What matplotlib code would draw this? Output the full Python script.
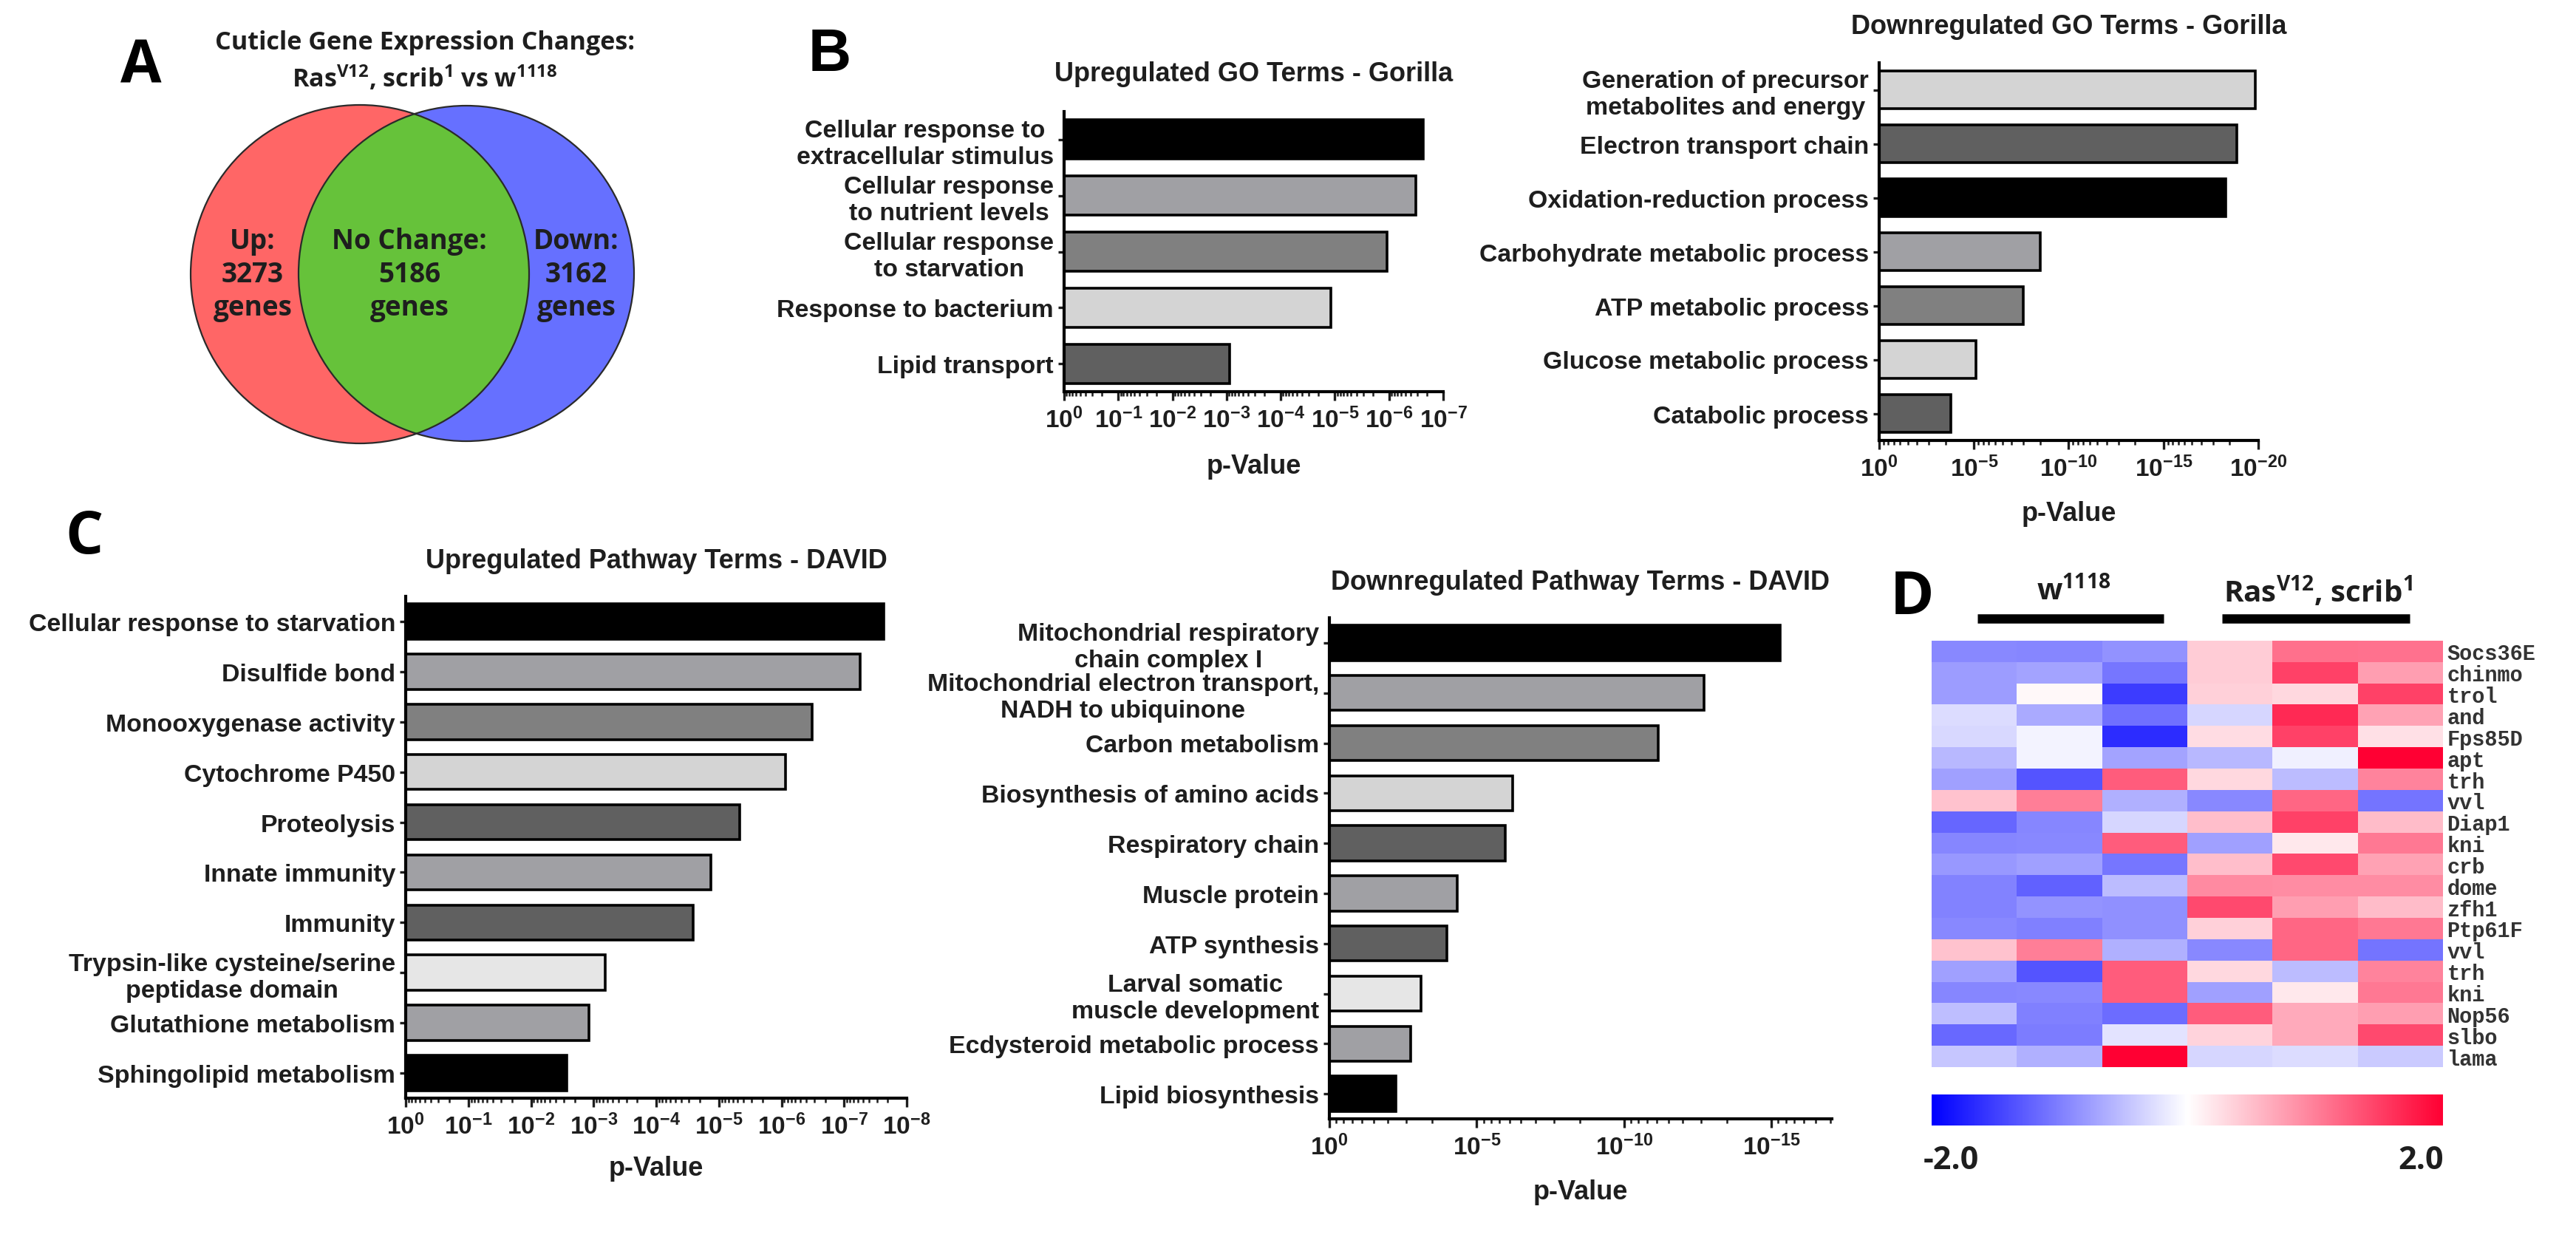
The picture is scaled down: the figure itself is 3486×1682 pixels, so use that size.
import numpy as np
import matplotlib
matplotlib.use("Agg")
import matplotlib.pyplot as plt
from matplotlib.patches import Circle
from matplotlib.colors import LinearSegmentedColormap
from matplotlib.ticker import FixedLocator, FuncFormatter, NullFormatter

# ---------------- data ----------------
venn_up = 3273
venn_nochange = 5186
venn_down = 3162

bup_labels = ["Cellular response to\nextracellular stimulus", "Cellular response\nto nutrient levels",
              "Cellular response\nto starvation", "Response to bacterium", "Lipid transport"]
bup_p = [2.3e-7, 3.2e-7, 1.1e-6, 1.2e-5, 8.7e-4]

bdown_labels = ["Generation of precursor\nmetabolites and energy", "Electron transport chain",
                "Oxidation-reduction process", "Carbohydrate metabolic process",
                "ATP metabolic process", "Glucose metabolic process", "Catabolic process"]
bdown_p = [1.4e-20, 1.3e-19, 5e-19, 3.3e-9, 2.4e-8, 7.6e-6, 1.6e-4]

cup_labels = ["Cellular response to starvation", "Disulfide bond", "Monooxygenase activity",
              "Cytochrome P450", "Proteolysis", "Innate immunity", "Immunity",
              "Trypsin-like cysteine/serine\npeptidase domain", "Glutathione metabolism",
              "Sphingolipid metabolism"]
cup_p = [2.3e-8, 5.5e-8, 3.2e-7, 8.7e-7, 4.7e-6, 1.35e-5, 2.6e-5, 6.5e-4, 1.2e-3, 2.7e-3]

cdown_labels = ["Mitochondrial respiratory\nchain complex I", "Mitochondrial electron transport,\nNADH to ubiquinone",
                "Carbon metabolism", "Biosynthesis of amino acids", "Respiratory chain",
                "Muscle protein", "ATP synthesis", "Larval somatic\nmuscle development",
                "Ecdysteroid metabolic process", "Lipid biosynthesis"]
cdown_p = [5e-16, 1.9e-13, 7e-12, 6e-7, 1.1e-6, 4.7e-5, 1.05e-4, 8e-4, 1.7e-3, 5.6e-3]

genes = ["Socs36E", "chinmo", "trol", "and", "Fps85D", "apt", "trh", "vvl", "Diap1", "kni",
         "crb", "dome", "zfh1", "Ptp61F", "vvl", "trh", "kni", "Nop56", "slbo", "lama"]
heat = np.array([
    [-0.93, -0.95, -0.85, 0.40, 1.12, 1.10],
    [-0.78, -0.71, -1.07, 0.40, 1.47, 0.75],
    [-0.78, 0.05, -1.53, 0.37, 0.30, 1.47],
    [-0.27, -0.67, -1.12, -0.32, 1.66, 0.72],
    [-0.30, -0.08, -1.65, 0.27, 1.47, 0.24],
    [-0.56, -0.08, -0.71, -0.56, -0.12, 2.00],
    [-0.75, -1.33, 1.28, 0.30, -0.52, 0.96],
    [0.48, 1.00, -0.62, -0.93, 1.20, -1.09],
    [-1.20, -0.95, -0.32, 0.50, 1.47, 0.53],
    [-0.95, -0.93, 1.28, -0.75, 0.18, 1.06],
    [-0.80, -0.75, -1.07, 0.50, 1.42, 0.72],
    [-0.98, -1.23, -0.52, 0.92, 0.90, 0.90],
    [-0.98, -0.84, -0.87, 1.42, 0.75, 0.53],
    [-0.93, -1.00, -0.87, 0.37, 1.20, 1.06],
    [0.48, 1.00, -0.62, -0.93, 1.20, -1.09],
    [-0.75, -1.33, 1.28, 0.30, -0.52, 0.96],
    [-0.95, -0.93, 1.28, -0.75, 0.18, 1.06],
    [-0.51, -1.00, -1.15, 1.28, 0.67, 0.75],
    [-1.18, -1.03, -0.21, 0.34, 0.67, 1.42],
    [-0.45, -0.62, 2.00, -0.32, -0.27, -0.42],
])

# ---------------- styles ----------------
BLK, G1, G2, G3, G4, G5 = "#000000", "#A0A0A4", "#808080", "#D4D4D4", "#606060", "#E6E6E6"
bup_colors = [BLK, G1, G2, G3, G4]
bdown_colors = [G3, G4, BLK, G1, G2, G3, G4]
cup_colors = [BLK, G1, G2, G3, G4, G1, G4, G5, G1, BLK]
cdown_colors = [BLK, G1, G2, G3, G4, G1, G4, G5, G1, BLK]

SANS = "Liberation Sans"
MY = "Open Sans"
MONO = "Liberation Mono"
TXT = "#1e1e1e"

plt.rcParams["font.family"] = [SANS, "DejaVu Sans"]
plt.rcParams["font.weight"] = "bold"
plt.rcParams["text.color"] = TXT
plt.rcParams["xtick.color"] = TXT
plt.rcParams["ytick.color"] = TXT

W, H, DPI = 3487, 1683, 200
fig = plt.figure(figsize=(W / DPI, H / DPI), dpi=DPI)


def px_axes(l, t, r, b):
    return fig.add_axes([l / W, 1 - b / H, (r - l) / W, (b - t) / H])


ov = fig.add_axes([0, 0, 1, 1])
ov.set_xlim(0, W)
ov.set_ylim(H, 0)
ov.axis("off")

# ---------------- panel A: Venn ----------------
red = Circle((487, 372), 229, fc="#FF6666", ec="none")
blue = Circle((631, 371), 227, fc="#6670FF", ec="none")
green = Circle((631, 371), 227, fc="#66C23A", ec="none")
ov.add_patch(red)
ov.add_patch(blue)
ov.add_patch(green)
green.set_clip_path(red)
ov.add_patch(Circle((487, 372), 229, fill=False, ec="#2a2a2a", lw=0.8))
ov.add_patch(Circle((631, 371), 227, fill=False, ec="#2a2a2a", lw=0.8))

ov.text(191, 91, "A", family=MY, weight="bold", fontsize=29, ha="center", va="center", color="k")
ov.text(575, 58, "Cuticle Gene Expression Changes:", family=MY, weight="bold",
        fontsize=12.3, ha="center", va="center")
ov.text(575, 107, r"Ras$^{\mathregular{V12}}$, scrib$^{\mathregular{1}}$ vs w$^{\mathregular{1118}}$",
        family=MY, weight="bold", fontsize=12.3, ha="center", va="center")
vkw = dict(family=MY, weight="bold", fontsize=13.3, ha="center", va="center", linespacing=1.25)
ov.text(342, 372, "Up:\n%d\ngenes" % venn_up, **vkw)
ov.text(554, 372, "No Change:\n%d\ngenes" % venn_nochange, **vkw)
ov.text(780, 372, "Down:\n%d\ngenes" % venn_down, **vkw)


# ---------------- bar panels ----------------
def bar_panel(rect, labels, pvals, colors, maxexp, step, title, title_y, xlab_y):
    ax = px_axes(*rect)
    n = len(labels)
    y = np.arange(n)
    p = np.asarray(pvals, dtype=float)
    ax.set_xscale("log")
    # bars span from p-value up to 10^0
    ax.barh(y, 1.0 - p, left=p, height=0.7, color=colors, edgecolor="black", linewidth=1.3)
    ax.set_xlim(1.0, 10.0 ** (-maxexp))
    ax.set_ylim(n - 0.5, -0.5)
    majors = np.arange(0, np.floor(maxexp) + 1e-9, step)
    ax.xaxis.set_major_locator(FixedLocator(10.0 ** (-majors)))
    mins = [M + step * (1 - np.log10(m)) for M in majors for m in range(2, 10)]
    mins = np.array([v for v in mins if v <= maxexp + 1e-9])
    ax.xaxis.set_minor_locator(FixedLocator(10.0 ** (-mins)))
    ax.xaxis.set_minor_formatter(NullFormatter())
    ax.xaxis.set_major_formatter(FuncFormatter(
        lambda v, pos: r"$\mathregular{10^{%d}}$" % int(round(np.log10(v)))))
    ax.set_yticks(y)
    ax.set_yticklabels(labels)
    for t in ax.get_yticklabels():
        t.set_multialignment("center")
    for s in ("top", "right"):
        ax.spines[s].set_visible(False)
    for s in ("left", "bottom"):
        ax.spines[s].set_linewidth(1.5)
    ax.tick_params(axis="x", which="major", length=4.3, width=1.2, pad=3, labelsize=12)
    ax.tick_params(axis="x", which="minor", length=2.2, width=0.9)
    ax.tick_params(axis="y", length=3, width=1.2, pad=2, labelsize=12.2)
    cx = (rect[0] + rect[2]) / 2
    ov.text(cx, title_y, title, fontsize=13, ha="center", va="center")
    ov.text(cx, xlab_y, "p-Value", fontsize=13, ha="center", va="center")
    return ax


bar_panel((1440, 152, 1953, 531), bup_labels, bup_p, bup_colors, 7, 1,
          "Upregulated GO Terms - Gorilla", 100, 632)
bar_panel((2543, 86, 3056, 597), bdown_labels, bdown_p, bdown_colors, 20, 5,
          "Downregulated GO Terms - Gorilla", 36, 696)
bar_panel((549, 808, 1227, 1487), cup_labels, cup_p, cup_colors, 8, 1,
          "Upregulated Pathway Terms - DAVID", 760, 1582)
bar_panel((1799, 837, 2479, 1515), cdown_labels, cdown_p, cdown_colors, 17.05, 5,
          "Downregulated Pathway Terms - DAVID", 789, 1614)

ov.text(1123, 75, "B", family=SANS, weight="bold", fontsize=29, ha="center", va="center", color="k")
ov.text(114, 728, "C", family=MY, weight="bold", fontsize=29, ha="center", va="center", color="k")

# ---------------- panel D: heatmap ----------------
cmap = LinearSegmentedColormap.from_list("bwr_d", ["#0000FF", "#FFFFFF", "#FF0033"])
axh = px_axes(2614, 868, 3306, 1445)
im = axh.imshow(heat, cmap=cmap, vmin=-2, vmax=2, aspect="auto", interpolation="nearest")
axh.set_xticks([])
axh.yaxis.tick_right()
axh.set_yticks(np.arange(len(genes)))
axh.set_yticklabels(genes, family=MONO, weight="bold", fontsize=10.3, color="#333333")
axh.tick_params(axis="y", length=0, pad=2)
for s in axh.spines.values():
    s.set_visible(False)

axc = px_axes(2614, 1482, 3306, 1524)
cb = fig.colorbar(im, cax=axc, orientation="horizontal")
cb.set_ticks([])
cb.outline.set_visible(False)

ov.text(2640, 1571, "-2.0", family=MY, weight="bold", fontsize=15.5, ha="center", va="center")
ov.text(3276, 1571, "2.0", family=MY, weight="bold", fontsize=15.5, ha="center", va="center")

ov.text(2588, 810, "D", family=MY, weight="bold", fontsize=29, ha="center", va="center", color="k")
ov.text(2806, 800, r"w$^{\mathregular{1118}}$", family=MY, weight="bold", fontsize=14.5,
        ha="center", va="center")
ov.text(3137, 800, r"Ras$^{\mathregular{V12}}$, scrib$^{\mathregular{1}}$", family=MY,
        weight="bold", fontsize=14.5, ha="center", va="center")
ov.plot([2676, 2928], [838, 838], color="k", lw=4.5, solid_capstyle="butt")
ov.plot([3007, 3261], [838, 838], color="k", lw=4.5, solid_capstyle="butt")

fig.savefig("out.png", dpi=DPI, facecolor="white")
